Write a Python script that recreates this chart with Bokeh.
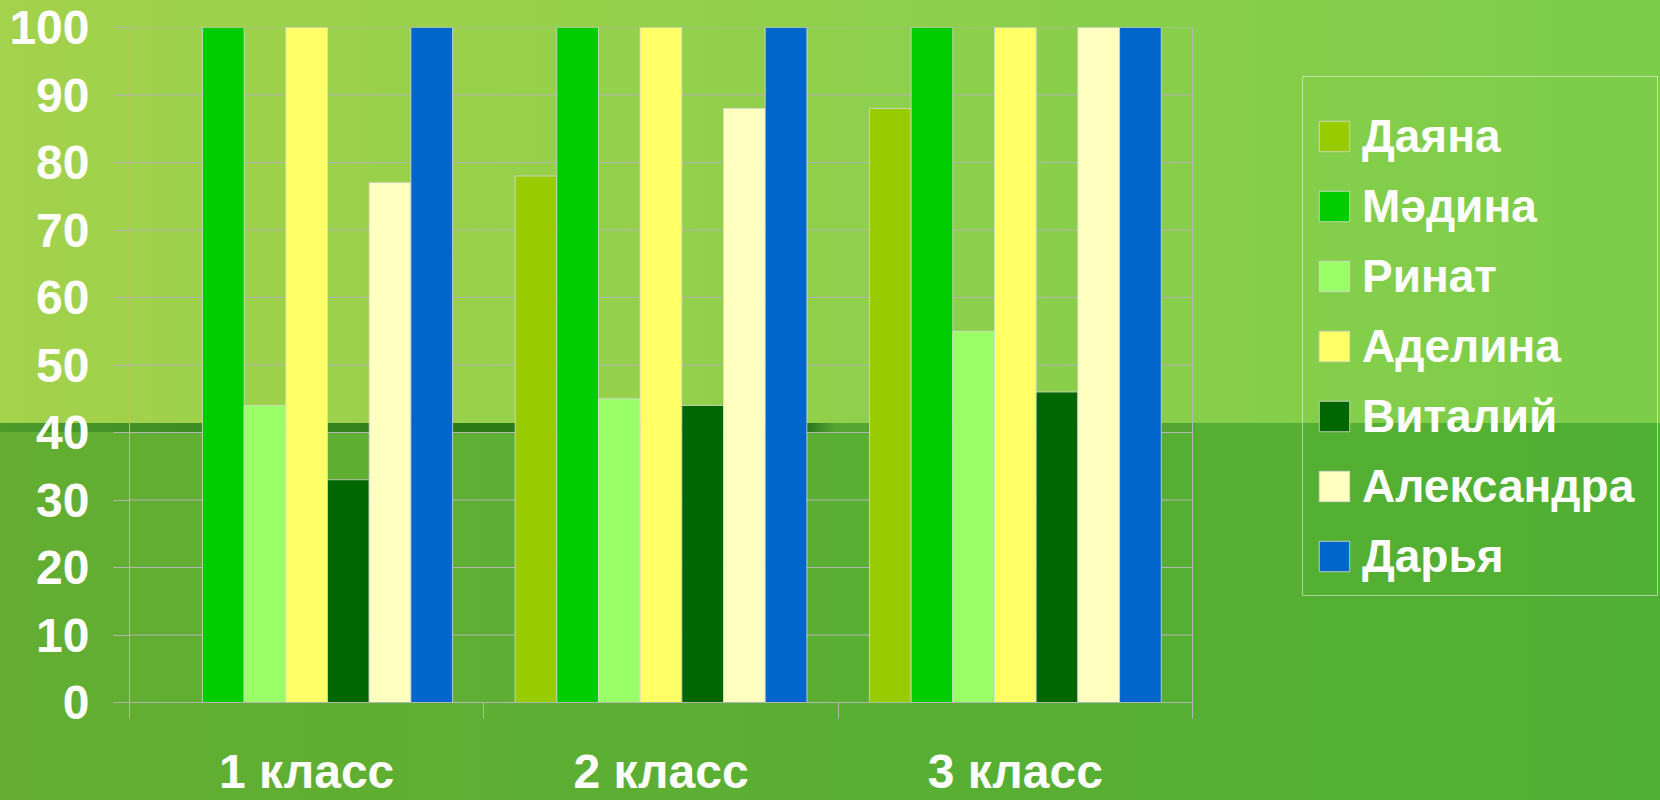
from bokeh.plotting import figure
from bokeh.models import FixedTicker, Legend, LegendItem
from bokeh.embed import file_html
from bokeh.resources import INLINE

# ---- data ----
classes = ["1 класс", "2 класс", "3 класс"]
names = ["Даяна", "Мәдина", "Ринат", "Аделина", "Виталий", "Александра", "Дарья"]
dayana = [0, 78, 88]
madina = [100, 100, 100]
rinat = [44, 45, 55]
adelina = [100, 100, 100]
vitaly = [33, 44, 46]
alexandra = [77, 88, 100]
darya = [100, 100, 100]
colors = ["#99cc00", "#00cc00", "#99ff66", "#ffff66", "#006600", "#ffffc0", "#0066cc"]
y_ticks = [0, 10, 20, 30, 40, 50, 60, 70, 80, 90, 100]

series = [dayana, madina, rinat, adelina, vitaly, alexandra, darya]

FONT = "Liberation Sans"
GRID = "#b4b4b4"

W, H = 1660, 800
LEFT, PLOT_RIGHT, TOP, BOTTOM = 129, 1192, 27, 98
ncat = len(classes)
# the frame spans to the right edge so the legend can sit beside the plot area
x_end = ncat * (W - LEFT) / (PLOT_RIGHT - LEFT)

p = figure(width=W, height=H, x_range=(0, x_end), y_range=(0, 100),
           output_backend="svg", toolbar_location=None,
           min_border_left=LEFT, min_border_right=0, min_border_top=TOP,
           min_border_bottom=BOTTOM)
p.background_fill_alpha = 0
p.border_fill_alpha = 0
p.outline_line_color = None
p.styles = {
    "background": (
        "linear-gradient(to right, #4c9a2a 0px, #2a7a18 480px, #2a7a18 530px, "
        "#1f6a14 800px, #55a535 835px, #55a535 1195px) 0px 423px / 1195px 9px no-repeat, "
        "linear-gradient(to right, #a3d24c, #7ccd4a) 0px 0px / 100% 423px no-repeat, "
        "linear-gradient(to right, #63ae32, #50b033)"
    ),
}

# gridlines limited to the plot area, plus its right border
p.xgrid.grid_line_color = None
p.ygrid.grid_line_color = None
p.segment(x0=[0] * len(y_ticks), x1=[ncat] * len(y_ticks), y0=y_ticks, y1=y_ticks,
          line_color=GRID, line_width=1)
p.segment(x0=[ncat], x1=[ncat], y0=[0], y1=[100], line_color=GRID, line_width=1)

n = len(series)
slot = n + 1.5  # Excel gap width 150%
items = []
for j, (name, vals, col) in enumerate(zip(names, series, colors)):
    xs = [i + 0.5 + (j - (n - 1) / 2) / slot for i in range(ncat)]
    r = p.vbar(x=xs, top=vals, width=1 / slot, fill_color=col,
               line_color="#d8d8d8", line_width=1, line_alpha=0.8)
    items.append(LegendItem(label=name, renderers=[r]))

for ax in (p.yaxis[0], p.xaxis[0]):
    ax.axis_line_color = GRID
    ax.major_tick_line_color = GRID
    ax.minor_tick_line_color = GRID
    ax.major_label_text_color = "white"
    ax.major_label_text_font = FONT
    ax.major_label_text_font_style = "bold"
    ax.major_label_text_font_size = "48px"

# y axis
p.yaxis.ticker = FixedTicker(ticks=y_ticks)
p.yaxis.major_tick_out = 16
p.yaxis.major_tick_in = 0
p.yaxis.minor_tick_out = 0
p.yaxis.minor_tick_in = 0
p.yaxis.major_label_standoff = 24

# x axis: labels at category centres, ticks at category borders
centers = [i + 0.5 for i in range(ncat)]
borders = [i for i in range(ncat + 1)]
p.xaxis.ticker = FixedTicker(ticks=centers, minor_ticks=borders)
p.xaxis.major_label_overrides = dict(zip(centers, classes))
p.xaxis.bounds = (0, ncat)
p.xaxis.major_tick_out = 0
p.xaxis.major_tick_in = 0
p.xaxis.minor_tick_out = 16
p.xaxis.minor_tick_in = 0
p.xaxis.major_label_standoff = 26

leg = Legend(items=items, location=(1302 - LEFT, 106))
leg.margin = 0
leg.padding = 12
leg.spacing = 16
leg.glyph_width = 38
leg.glyph_height = 38
leg.label_standoff = 9
leg.label_width = 283
leg.label_text_font = FONT
leg.label_text_font_style = "bold"
leg.label_text_font_size = "46px"
leg.label_text_color = "white"
leg.border_line_color = "white"
leg.border_line_width = 1
leg.background_fill_alpha = 0
leg.title = " "
leg.title_text_font_size = "8px"
leg.title_standoff = 11
p.add_layout(leg, "center")

open("out.html", "w").write(file_html(p, INLINE, title="chart"))
